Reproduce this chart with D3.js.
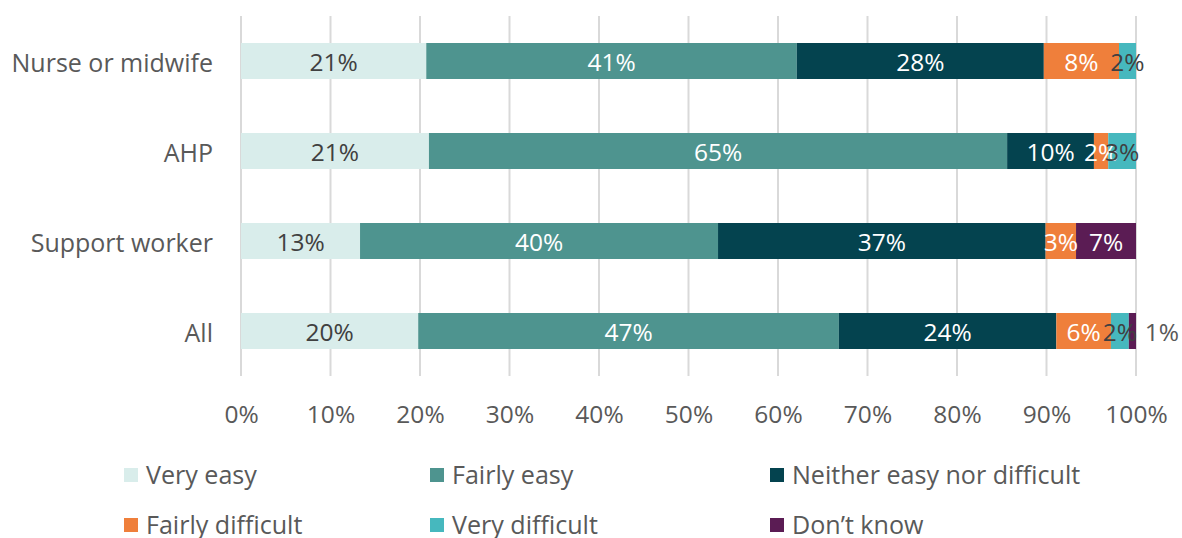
<!DOCTYPE html>
<html>
<head>
<meta charset="utf-8">
<script src="https://cdn.jsdelivr.net/npm/d3@7"></script>
<style>
  html, body { margin: 0; padding: 0; background: #fff; }
  svg { display: block; font-family: "Open Sans", "Noto Sans", sans-serif; }
</style>
</head>
<body>
<svg id="chart" width="1182" height="538"></svg>
<script>
// Staff groups (rows, top to bottom)
const categories = ["Nurse or midwife", "AHP", "Support worker", "All"];

// Response options, in stacking order
const seriesNames = ["Very easy", "Fairly easy", "Neither easy nor difficult",
                     "Fairly difficult", "Very difficult", "Don\u2019t know"];

// Percentages per response option, one value per staff group
const veryEasy      = [20.7, 21.0, 13.3, 19.8];
const fairlyEasy    = [41.4, 64.6, 40.0, 47.0];
const neither       = [27.6,  9.7, 36.6, 24.3];
const fairlyDiff    = [ 8.4,  1.6,  3.4,  6.1];
const veryDiff      = [ 1.9,  3.1,  0.0,  2.0];
const dontKnow      = [ 0.0,  0.0,  6.7,  0.8];

const tickValues = [0, 10, 20, 30, 40, 50, 60, 70, 80, 90, 100];

const colors = ["#d9edeb", "#4e948f", "#04434f", "#ef7f3b", "#46b8be", "#5b1c54"];
// label colour for each series (dark text on light fills)
const labelColors = ["#404040", "#ffffff", "#ffffff", "#ffffff", "#404040", "#ffffff"];

const seriesValues = [veryEasy, fairlyEasy, neither, fairlyDiff, veryDiff, dontKnow];

const rows = categories.map((c, i) => {
  const r = { category: c };
  seriesNames.forEach((s, j) => { r[s] = seriesValues[j][i]; });
  return r;
});

const stacked = d3.stack().keys(seriesNames)(rows);

const svg = d3.select("#chart");
const margin = { left: 241, right: 46, top: 16, bottom: 162 };
const W = 1182, H = 538;
const FONT = 24.5;

const x = d3.scaleLinear().domain([0, 100]).range([margin.left, W - margin.right]);
const y = d3.scaleBand().domain(categories)
  .range([margin.top, H - margin.bottom]).paddingInner(0.6).paddingOuter(0.3);

// vertical gridlines
svg.append("g")
  .selectAll("line")
  .data(tickValues)
  .join("line")
  .attr("x1", d => x(d)).attr("x2", d => x(d))
  .attr("y1", margin.top).attr("y2", H - margin.bottom)
  .attr("stroke", "#d9d9d9").attr("stroke-width", 2);

// x axis labels
const xAxis = d3.axisBottom(x).tickValues(tickValues).tickFormat(d => d + "%").tickSize(0).tickPadding(0);
const gx = svg.append("g")
  .attr("transform", `translate(0,${H - margin.bottom + 30})`)
  .call(xAxis);
gx.select(".domain").remove();
gx.selectAll("text").attr("font-size", FONT).attr("fill", "#595959")
  .attr("font-family", "\"Open Sans\", sans-serif");

// y axis labels
const yAxis = d3.axisLeft(y).tickSize(0).tickPadding(28);
const gy = svg.append("g").attr("transform", `translate(${margin.left},0)`).call(yAxis);
gy.select(".domain").remove();
gy.selectAll("text").attr("font-size", 25).attr("fill", "#595959")
  .attr("dy", "0.42em")
  .attr("font-family", "\"Open Sans\", sans-serif");

// stacked bars
const layers = svg.append("g")
  .selectAll("g")
  .data(stacked)
  .join("g")
  .attr("fill", (d, i) => colors[i]);

layers.selectAll("rect")
  .data(d => d.filter(p => p[1] - p[0] > 0))
  .join("rect")
  .attr("x", p => x(p[0]))
  .attr("width", p => x(p[1]) - x(p[0]))
  .attr("y", p => y(p.data.category))
  .attr("height", y.bandwidth());

// data labels
stacked.forEach((layer, i) => {
  layer.forEach(p => {
    const v = p[1] - p[0];
    if (v <= 0) return;
    let cx = (x(p[0]) + x(p[1])) / 2;
    let fill = labelColors[i];
    // very narrow final segment: label placed just outside the bar
    if (v < 1.2) { cx = x(100) + 26; fill = "#595959"; }
    svg.append("text")
      .attr("x", cx)
      .attr("y", y(p.data.category) + y.bandwidth() / 2)
      .attr("dy", "0.42em")
      .attr("text-anchor", "middle")
      .attr("font-size", FONT)
      .attr("fill", fill)
      .text(Math.round(v) + "%");
  });
});

// legend: 3 columns x 2 rows
const legendCols = [124, 430, 770];
const legendRows = [475, 525];
const legend = svg.append("g");
seriesNames.forEach((s, i) => {
  const gx0 = legendCols[i % 3], gy0 = legendRows[Math.floor(i / 3)];
  const g = legend.append("g").attr("transform", `translate(${gx0},${gy0})`);
  g.append("rect").attr("x", 0).attr("y", -7).attr("width", 14).attr("height", 14)
    .attr("fill", colors[i]);
  g.append("text").attr("x", 22).attr("y", 0).attr("dy", "0.36em")
    .attr("font-size", 26).attr("fill", "#595959")
    .attr("transform", "scale(0.965,1)")
    .attr("transform-origin", "22 0")
    .text(s);
});
</script>
</body>
</html>
